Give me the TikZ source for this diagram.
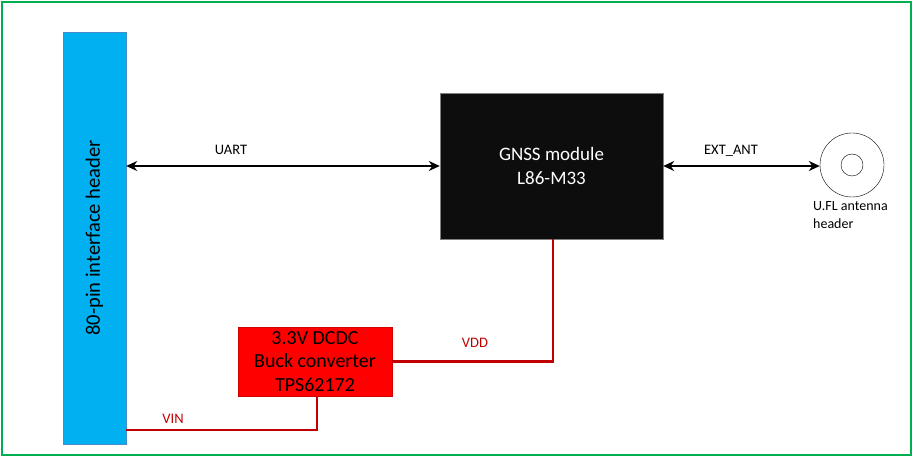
\documentclass[tikz,border=0pt]{standalone}
\usepackage{fontspec}
\setmainfont{Carlito}
\usetikzlibrary{arrows.meta}
\definecolor{frameGreen}{RGB}{0,176,80}
\definecolor{hdrBlue}{RGB}{0,176,240}
\definecolor{hdrEdge}{RGB}{70,140,200}
\definecolor{modBlack}{RGB}{13,13,13}
\definecolor{pwrRed}{RGB}{192,0,0}
\begin{document}
\begin{tikzpicture}[x=1pt, y=-1pt,
  block/.style={rectangle, inner sep=0pt, align=center},
  sig/.style={line width=2.8pt, {Stealth[length=11pt,width=10pt]}-{Stealth[length=11pt,width=10pt]}},
  pwr/.style={line width=2.6pt, draw=pwrRed},
  lbl/.style={inner sep=0pt, anchor=base, font=\fontsize{14.5}{17}\selectfont}]

     % Marco exterior
     \draw[frameGreen, line width=2pt] (2,2) rectangle (911,455);
     \useasboundingbox (0,0) rectangle (914,457);

     % Bloques principales
     \node[block, fill=hdrBlue, draw=hdrEdge, minimum width=63pt, minimum height=412pt] (hdr) at (94.5,238) {};
     \node[rotate=90, font=\fontsize{20.5}{24}\selectfont] (hdrtxt) at (hdr.center) {80-pin interface header};
     \node[block, fill=modBlack, draw=gray, minimum width=223pt, minimum height=146pt, text=white,
           font=\fontsize{19}{24}\selectfont] (gnss) at (551.5,166) {GNSS module\\L86-M33};
     \node[block, fill=red, draw=pwrRed!70!red, minimum width=154pt, minimum height=69pt,
           font=\fontsize{20}{23.5}\selectfont] (buck) at (315,361.5) {3.3V DCDC\\Buck converter\\TPS62172};

     % Conector de antena
     \node[circle, draw, thin, minimum size=64pt, inner sep=0pt] (ufl) at (852,165) {};
     \node[circle, draw, thin, minimum size=22pt, inner sep=0pt] (uflin) at (ufl.center) {};
     \node[lbl, anchor=base west, align=left, font=\fontsize{14}{18}\selectfont] (ufltxt) at (813,229) {U.FL antenna\\header};

     % Señales
     \draw[sig] (hdr.east |- gnss.west) -- (gnss.west);
     \draw[sig] (gnss.east) -- (ufl.west |- gnss.east);
     \node[lbl] (uart) at (231,155) {UART};
     \node[lbl] (extant) at (731,155) {EXT\_ANT};

     % Alimentación
     \coordinate (vddc) at (553,361.5);
     \coordinate (vinc) at (317,430);
     \draw[pwr] (buck.east) -- (vddc) -- (vddc |- gnss.south);
     \draw[pwr] (hdr.east |- vinc) -- (vinc) -- (vinc |- buck.south);
     \node[lbl, text=pwrRed] (vdd) at (475,348) {VDD};
     \node[lbl, text=pwrRed] (vin) at (173,423) {VIN};

\end{tikzpicture}
\end{document}
